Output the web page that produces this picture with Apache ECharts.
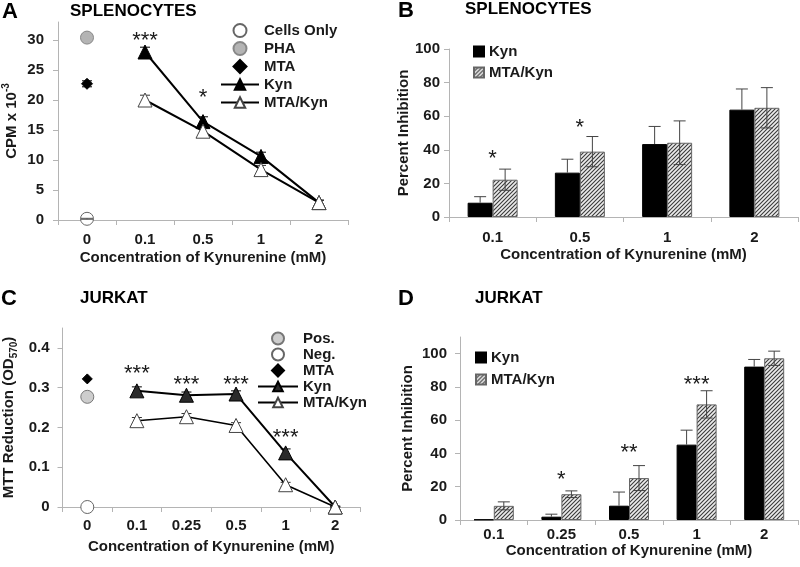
<!DOCTYPE html>
<html><head><meta charset="utf-8">
<script src="https://cdn.jsdelivr.net/npm/echarts@6/dist/echarts.min.js"></script>
<style>html,body{margin:0;padding:0;background:#fff}#c{width:800px;height:567px}</style>
</head><body><div id="c"></div>
<script>
// ---------- Panel A : SPLENOCYTES (CPM x 10^-3) ----------
const catsA = ['0', '0.1', '0.5', '1', '2'];
const yTicksA = [0, 5, 10, 15, 20, 25, 30];
const doseA = ['0.1', '0.5', '1', '2'];
const kynA = [28, 16.4, 10.6, 2.9];
const kynAErr = [0.8, 0.8, 0.7, 0.4];
const mtaKynA = [20, 14.8, 8.4, 2.9];
const mtaKynAErr = [0.8, 0.7, 0.7, 0.4];
const cellsOnlyA = [0.2];
const cellsOnlyAErr = [0.08];
const phaA = [30.4];
const mtaA = [22.7];
const mtaAErr = [0.5];
const starCatsA = ['0.1', '0.5'];
const starYA = [30.6, 21.2];
const starTextA = ['***', '*'];

// ---------- Panel B : SPLENOCYTES (% inhibition) ----------
const catsB = ['0.1', '0.5', '1', '2'];
const yTicksB = [0, 20, 40, 60, 80, 100];
const kynB = [8.5, 26.4, 43.4, 63.9];
const kynBErr = [3.6, 8, 10.5, 12.3];
const mtaKynB = [22.2, 38.9, 44.2, 65];
const mtaKynBErr = [6.3, 9, 13, 12];
const starCatsB = ['0.1', '0.5'];
const starYB = [37.6, 56];
const starTextB = ['*', '*'];

// ---------- Panel C : JURKAT (MTT reduction) ----------
const catsC = ['0', '0.1', '0.25', '0.5', '1', '2'];
const yTicksC = [0, 0.1, 0.2, 0.3, 0.4];
const doseC = ['0.1', '0.25', '0.5', '1', '2'];
const kynC = [0.292, 0.281, 0.284, 0.136, 0];
const kynCErr = [0.01, 0.008, 0.008, 0.01, 0.002];
const mtaKynC = [0.217, 0.227, 0.205, 0.056, 0];
const mtaKynCErr = [0.008, 0.008, 0.007, 0.006, 0.002];
const posC = [0.277];
const negC = [0];
const mtaC = [0.322];
const starCatsC = ['0.1', '0.25', '0.5', '1'];
const starYC = [0.346, 0.319, 0.319, 0.185];
const starTextC = ['***', '***', '***', '***'];

// ---------- Panel D : JURKAT (% inhibition) ----------
const catsD = ['0.1', '0.25', '0.5', '1', '2'];
const yTicksD = [0, 20, 40, 60, 80, 100];
const kynD = [0.3, 2, 8.6, 45.3, 92.2];
const kynDErr = [0, 1.5, 8.2, 8.7, 4.3];
const mtaKynD = [8.5, 15.5, 25.2, 69.5, 97.2];
const mtaKynDErr = [2.4, 2.0, 7.5, 8.2, 4.3];
const starCatsD = ['0.25', '0.5', '1'];
const starYD = [27, 43.4, 84.3];
const starTextD = ['*', '**', '***'];

// ---------- styling helpers ----------
const FONT = "'Liberation Sans', Arial, sans-serif";
const TXT = '#1a1a1a';
const AXC = '#b4b4b4';
const DIAMOND = 'path://M0,-1L1,0L0,1L-1,0Z';

function hatch() {
  const s = 4;
  const c = document.createElement('canvas');
  c.width = s; c.height = s;
  const g = c.getContext('2d');
  g.fillStyle = '#ececec'; g.fillRect(0, 0, s, s);
  g.strokeStyle = '#3a3a3a'; g.lineWidth = 1.1;
  g.beginPath();
  g.moveTo(-1, s + 1); g.lineTo(s + 1, -1);
  g.moveTo(-1, 1); g.lineTo(1, -1);
  g.moveTo(s - 1, s + 1); g.lineTo(s + 1, s - 1);
  g.stroke();
  return { image: c, repeat: 'repeat' };
}
const HATCH = hatch();

function xAxisCfg(gi, cats, labelMargin, nameGap) {
  return {
    type: 'category', gridIndex: gi, data: cats, boundaryGap: true,
    axisLine: { show: true, lineStyle: { color: AXC, width: 1 } },
    axisTick: { show: true, length: 5, lineStyle: { color: AXC } },
    axisLabel: { margin: labelMargin, fontSize: 15, fontWeight: 'bold', color: TXT, fontFamily: FONT },
    name: 'Concentration of Kynurenine (mM)', nameLocation: 'middle', nameGap: nameGap,
    nameTextStyle: { fontSize: 15, fontWeight: 'bold', color: TXT, fontFamily: FONT },
    splitLine: { show: false }
  };
}
function yAxisCfg(gi, max, ticks, labelMargin, name, nameGap, rich) {
  return {
    type: 'value', gridIndex: gi, min: 0, max: max,
    axisLine: { show: true, lineStyle: { color: AXC, width: 1 } },
    axisTick: { show: true, length: 5, lineStyle: { color: AXC }, customValues: ticks },
    axisLabel: { margin: labelMargin, fontSize: 15, fontWeight: 'bold', color: TXT, fontFamily: FONT, customValues: ticks },
    splitLine: { show: false },
    name: name, nameLocation: 'middle', nameGap: nameGap, nameRotate: 90,
    nameTextStyle: Object.assign({ fontSize: 15, fontWeight: 'bold', color: TXT, fontFamily: FONT }, rich ? { rich: rich } : {})
  };
}

function errSeries(gi, cats, vals, errs, offset, upperOnly, cap, z, color) {
  return {
    type: 'custom', xAxisIndex: gi, yAxisIndex: gi, z: z, silent: true,
    data: cats.map((c, i) => [c, vals[i], errs[i]]),
    encode: { x: 0, y: 1 },
    renderItem(params, api) {
      const x = api.value(0), v = api.value(1), e = api.value(2);
      if (!e) return null;
      const mid = api.coord([x, v]);
      const hi = api.coord([x, v + e]);
      const lo = api.coord([x, Math.max(0, v - e)]);
      const cx = mid[0] + offset;
      const st = { stroke: color, lineWidth: 1 };
      const ch = [
        { type: 'line', shape: { x1: cx, y1: hi[1], x2: cx, y2: upperOnly ? mid[1] : lo[1] }, style: st },
        { type: 'line', shape: { x1: cx - cap, y1: hi[1], x2: cx + cap, y2: hi[1] }, style: st }
      ];
      if (!upperOnly) ch.push({ type: 'line', shape: { x1: cx - cap, y1: lo[1], x2: cx + cap, y2: lo[1] }, style: st });
      return { type: 'group', children: ch };
    }
  };
}
function starSeries(gi, cats, ys, texts) {
  return {
    type: 'custom', xAxisIndex: gi, yAxisIndex: gi, z: 10, silent: true,
    data: cats.map((c, i) => [c, ys[i]]),
    encode: { x: 0, y: 1 },
    renderItem(params, api) {
      const p = api.coord([api.value(0), api.value(1)]);
      return { type: 'text', x: p[0], y: p[1] + 5,
        style: { text: texts[params.dataIndex], fontSize: 22, fontFamily: FONT, fill: TXT, align: 'center', verticalAlign: 'middle' } };
    }
  };
}
function scatterSeries(gi, name, cat, vals, symbol, size, fill, border) {
  return {
    type: 'scatter', name: name, xAxisIndex: gi, yAxisIndex: gi, z: 4,
    symbol: symbol, symbolSize: size, symbolKeepAspect: true,
    itemStyle: { color: fill, borderColor: border, borderWidth: 1, opacity: 1 },
    data: vals.map(v => [cat, v])
  };
}
function lineSeries(gi, name, cats, vals, fill, border, size, lw) {
  return {
    type: 'line', name: name, xAxisIndex: gi, yAxisIndex: gi, z: 4,
    symbol: 'triangle', symbolSize: size, showSymbol: true,
    lineStyle: { color: '#000', width: lw },
    itemStyle: { color: fill, borderColor: border, borderWidth: 1 },
    data: cats.map((c, i) => [c, vals[i]])
  };
}
function barSeries(gi, name, cats, vals, color, border, width) {
  return {
    type: 'bar', name: name, xAxisIndex: gi, yAxisIndex: gi, z: 3,
    barWidth: width, barGap: '0%',
    itemStyle: { color: color, borderColor: border, borderWidth: 1 },
    data: cats.map((c, i) => [c, vals[i]])
  };
}
const legendFmt = n => n.split('|')[1];
const legText = { fontSize: 15, fontWeight: 'bold', color: TXT, fontFamily: FONT };

const titleStyle = (t, left, top, size) => ({
  text: t, left: left, top: top, padding: 0,
  textStyle: { fontSize: size, fontWeight: 'bold', color: '#000', fontFamily: FONT }
});

const option = {
  animation: false,
  backgroundColor: '#fff',
  textStyle: { fontFamily: FONT },
  title: [
    titleStyle('A', 2, 1, 22), titleStyle('SPLENOCYTES', 70, 3, 17),
    titleStyle('B', 398, 0, 22), titleStyle('SPLENOCYTES', 465, 1, 17),
    titleStyle('C', 1, 288, 22), titleStyle('JURKAT', 80, 290, 17),
    titleStyle('D', 398, 288, 22), titleStyle('JURKAT', 475, 290, 17)
  ],
  grid: [
    { left: 58, top: 22, width: 290, height: 198 },
    { left: 449, top: 49, width: 349, height: 168 },
    { left: 60, top: 328, width: 300, height: 179 },
    { left: 460, top: 337, width: 338, height: 183 }
  ],
  xAxis: [
    xAxisCfg(0, catsA, 12, 30),
    xAxisCfg(1, catsB, 13, 30),
    xAxisCfg(2, catsC, 11, 32),
    xAxisCfg(3, catsD, 7, 21)
  ],
  yAxis: [
    yAxisCfg(0, 33, yTicksA, 14, '{b|CPM x 10}{sup|-3}', 35,
      { b: { fontSize: 15, fontWeight: 'bold', color: TXT, lineHeight: 22 }, sup: { fontSize: 10, fontWeight: 'bold', color: TXT, verticalAlign: 'top', lineHeight: 10 } }),
    yAxisCfg(1, 100, yTicksB, 9, 'Percent Inhibition', 38, null),
    yAxisCfg(2, 0.45, yTicksC, 13, '{b|MTT Reduction (OD}{sub|570}{b|)}', 43,
      { b: { fontSize: 15, fontWeight: 'bold', color: TXT, lineHeight: 22 }, sub: { fontSize: 10, fontWeight: 'bold', color: TXT, verticalAlign: 'bottom', lineHeight: 10 } }),
    yAxisCfg(3, 110, yTicksD, 13, 'Percent Inhibition', 45, null)
  ],
  legend: [
    { left: 220, top: 23, padding: 0, orient: 'vertical', itemWidth: 38, itemHeight: 13, itemGap: 3, selectedMode: false, symbolKeepAspect: true,
      formatter: legendFmt, textStyle: legText,
      data: ['A|Cells Only', 'A|PHA', 'A|MTA', 'A|Kyn', 'A|MTA/Kyn'] },
    { left: 473, top: 44, padding: 0, orient: 'vertical', itemWidth: 10, itemHeight: 10, itemGap: 6, selectedMode: false, icon: 'rect',
      formatter: legendFmt, textStyle: legText,
      data: ['B|Kyn', 'B|MTA/Kyn'] },
    { left: 257, top: 331, padding: 0, orient: 'vertical', itemWidth: 40, itemHeight: 12, itemGap: 1, selectedMode: false, symbolKeepAspect: true,
      formatter: legendFmt, textStyle: legText,
      data: ['C|Pos.', 'C|Neg.', 'C|MTA', 'C|Kyn', 'C|MTA/Kyn'] },
    { left: 475, top: 350, padding: 0, orient: 'vertical', itemWidth: 10, itemHeight: 10, itemGap: 7, selectedMode: false, icon: 'rect',
      formatter: legendFmt, textStyle: legText,
      data: ['D|Kyn', 'D|MTA/Kyn'] }
  ],
  series: [
    // A
    errSeries(0, ['0'], cellsOnlyA, cellsOnlyAErr, 0, false, 6, 5, '#555'),
    errSeries(0, ['0'], mtaA, mtaAErr, 0, false, 5, 3, '#000'),
    errSeries(0, doseA, kynA, kynAErr, 0, false, 5, 3, '#000'),
    errSeries(0, doseA, mtaKynA, mtaKynAErr, 0, false, 5, 3, '#333'),
    scatterSeries(0, 'A|Cells Only', '0', cellsOnlyA, 'circle', 13, '#fff', '#666'),
    scatterSeries(0, 'A|PHA', '0', phaA, 'circle', 13, '#b4b4b4', '#888'),
    scatterSeries(0, 'A|MTA', '0', mtaA, DIAMOND, 11, '#000', '#000'),
    lineSeries(0, 'A|Kyn', doseA, kynA, '#000', '#000', 14, 2),
    lineSeries(0, 'A|MTA/Kyn', doseA, mtaKynA, '#fff', '#444', 14, 2),
    starSeries(0, starCatsA, starYA, starTextA),
    // B
    barSeries(1, 'B|Kyn', catsB, kynB, '#000', '#000', 25),
    barSeries(1, 'B|MTA/Kyn', catsB, mtaKynB, HATCH, '#666', 25),
    errSeries(1, catsB, kynB, kynBErr, -12.5, true, 6, 6, '#444'),
    errSeries(1, catsB, mtaKynB, mtaKynBErr, 12.5, false, 6, 6, '#444'),
    starSeries(1, starCatsB, starYB, starTextB),
    // C
    errSeries(2, doseC, kynC, kynCErr, 0, false, 5, 3, '#000'),
    errSeries(2, doseC, mtaKynC, mtaKynCErr, 0, false, 5, 3, '#333'),
    scatterSeries(2, 'C|Pos.', '0', posC, 'circle', 13, '#cdcdcd', '#777'),
    scatterSeries(2, 'C|Neg.', '0', negC, 'circle', 13, '#fff', '#666'),
    scatterSeries(2, 'C|MTA', '0', mtaC, DIAMOND, 10, '#000', '#000'),
    lineSeries(2, 'C|Kyn', doseC, kynC, '#2a2a2a', '#000', 14, 2),
    lineSeries(2, 'C|MTA/Kyn', doseC, mtaKynC, '#fff', '#444', 14, 1.6),
    starSeries(2, starCatsC, starYC, starTextC),
    // D
    barSeries(3, 'D|Kyn', catsD, kynD, '#000', '#000', 20),
    barSeries(3, 'D|MTA/Kyn', catsD, mtaKynD, HATCH, '#666', 20),
    errSeries(3, catsD, kynD, kynDErr, -10, true, 6, 6, '#444'),
    errSeries(3, catsD, mtaKynD, mtaKynDErr, 10, false, 6, 6, '#444'),
    starSeries(3, starCatsD, starYD, starTextD)
  ]
};
const chart = echarts.init(document.getElementById('c'), null, { renderer: 'canvas' });
chart.setOption(option);
</script></body></html>
